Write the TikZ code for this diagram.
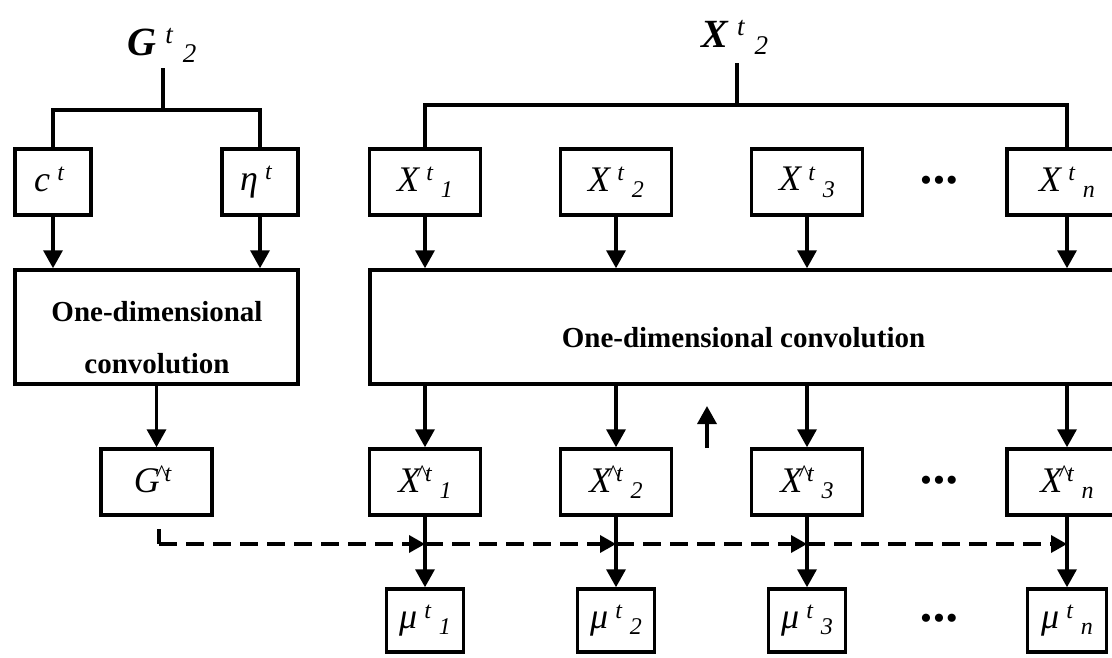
\documentclass[tikz,border=0pt]{standalone}
\usepackage{fontspec}
\setmainfont{Liberation Serif}
\usetikzlibrary{arrows.meta}

\newcommand{\labfont}{\fontsize{36}{40}\selectfont}
\newcommand{\convfont}{\fontsize{29}{52}\selectfont\bfseries}
\newcommand{\scrfont}{\fontsize{24}{24}\selectfont\itshape}
\newcommand{\sublab}[3]{{\itshape #1}\hspace{0.2em}\raisebox{0.3em}{\scrfont #2}\hspace{0.22em}\raisebox{-0.17em}{\scrfont #3}}
\newcommand{\hatlab}[2]{{\itshape #1}\hspace{-0.12em}\raisebox{0.3em}{\scrfont\textasciicircum\hspace{-0.05em}t}\hspace{0.22em}\raisebox{-0.17em}{\scrfont #2}}
\newcommand{\toplab}[3]{{\fontsize{40}{44}\selectfont{\bfseries\itshape #1}\hspace{0.22em}\raisebox{0.3em}{\fontsize{27}{27}\selectfont\itshape #2}\hspace{0.25em}\raisebox{-0.18em}{\fontsize{27}{27}\selectfont\itshape #3}}}
\newcommand{\threedots}{{\fontsize{34}{34}\selectfont\textbullet\hspace{1pt}\textbullet\hspace{1pt}\textbullet}}

\begin{document}
\begin{tikzpicture} [x=1pt,y=-1pt,line width=3.5pt,
  box/.style={draw,rectangle,inner sep=0pt,minimum height=66pt,font=\labfont},
  xbox/.style={box,minimum width=111pt},
  mubox/.style={box,minimum width=77pt,minimum height=63pt},
  convbox/.style={draw,rectangle,inner sep=0pt,minimum height=114pt},
  arr/.style={-{Triangle[width=19pt,length=18pt]}},
  dashline/.style={dash pattern=on 18pt off 9pt},
  dasharr/.style={dashline,-{Triangle[width=17pt,length=16pt]}}]

\useasboundingbox (0,0) rectangle (1112,657);
\clip (0,0) rectangle (1112,657);

%\draw [step=100, dotted, thin] (0,0) grid (1112,657);

\node [anchor=base] (g2) at (162,55) {\toplab{G}{t}{2}};
\coordinate (gt) at (163,68);
\coordinate (gs) at (163,110);
\node [box,minimum width=76pt] (c) at (53,182) {\sublab{c}{t}{}};
\node [box,minimum width=76pt] (eta) at (260,182) {\sublab{η}{t}{}};
\draw (gt) -- (gs);
\draw (c.north) |- (gs) -| (eta.north);

\node [convbox,minimum width=283pt] (convl) at (156.5,327) {};
\node [font=\convfont,align=center,inner sep=0pt] (convlt) at (157,338) {One-dimensional\\convolution};
\draw [arr] (c.south) -- (c.south |- convl.north);
\draw [arr] (eta.south) -- (eta.south |- convl.north);

\node [xbox] (gh) at (156.5,482) {\hatlab{G}{}};
\draw [arr] (convl.south -| gh.north) -- (gh.north);

\node [anchor=base] (x2lab) at (735,47) {\toplab{X}{t}{2}};
\coordinate (xt) at (737,63);
\coordinate (xs) at (737,105);
\node [xbox] (x1) at (425,182) {\sublab{X}{t}{1}};
\node [xbox] (x2) at (616,182) {\sublab{X}{t}{2}};
\node [xbox] (x3) at (807,182) {\sublab{X}{t}{3}};
\node [xbox,minimum width=120pt] (xn) at (1067,182) {\sublab{X}{t}{n}};
\node (dots1) at (939,184) {\threedots};
\draw (xt) -- (xs);
\draw (x1.north) |- (xs) -| (xn.north);

\node [convbox,minimum width=747pt] (convr) at (743.5,327) {};
\node [font=\convfont,inner sep=0pt] (convrt) at (743.5,338) {One-dimensional convolution};
\draw [arr] (x1.south) -- (x1.south |- convr.north);
\draw [arr] (x2.south) -- (x2.south |- convr.north);
\draw [arr] (x3.south) -- (x3.south |- convr.north);
\draw [arr] (xn.south) -- (xn.south |- convr.north);

\node [xbox] (xh1) at (425,482) {\hatlab{X}{1}};
\node [xbox] (xh2) at (616,482) {\hatlab{X}{2}};
\node [xbox] (xh3) at (807,482) {\hatlab{X}{3}};
\node [xbox,minimum width=120pt] (xhn) at (1067,482) {\hatlab{X}{n}};
\node (dots2) at (939,484) {\threedots};
\draw [arr] (convr.south -| xh1.north) -- (xh1.north);
\draw [arr] (convr.south -| xh2.north) -- (xh2.north);
\draw [arr] (convr.south -| xh3.north) -- (xh3.north);
\draw [arr] (convr.south -| xhn.north) -- (xhn.north);

\coordinate (ua) at (707,448);
\coordinate (ub) at (707,406);
\draw [arr] (ua) -- (ub);

\node [mubox] (m1) at (425,620.5) {\sublab{μ}{t}{1}};
\node [mubox] (m2) at (616,620.5) {\sublab{μ}{t}{2}};
\node [mubox] (m3) at (807,620.5) {\sublab{μ}{t}{3}};
\node [mubox,minimum width=79pt] (mn) at (1067,620.5) {\sublab{μ}{t}{n}};
\node (dots3) at (939,622) {\threedots};
\draw [arr] (xh1.south) -- (m1.north);
\draw [arr] (xh2.south) -- (m2.north);
\draw [arr] (xh3.south) -- (m3.north);
\draw [arr] (xhn.south) -- (mn.north);

\coordinate (dl) at (0,544);
\coordinate (d0) at (159,529);
\coordinate (dc) at (d0 |- dl);
\coordinate (d1) at (xh1.south |- dl);
\coordinate (d2) at (xh2.south |- dl);
\coordinate (d3) at (xh3.south |- dl);
\coordinate (dn) at (xhn.south |- dl);
\draw [dashline] (d0) -- (dc);
\draw [dasharr] (dc) -- (d1);
\draw [dasharr] (d1) -- (d2);
\draw [dasharr] (d2) -- (d3);
\draw [dasharr] (d3) -- (dn);

\end{tikzpicture}
\end{document}
